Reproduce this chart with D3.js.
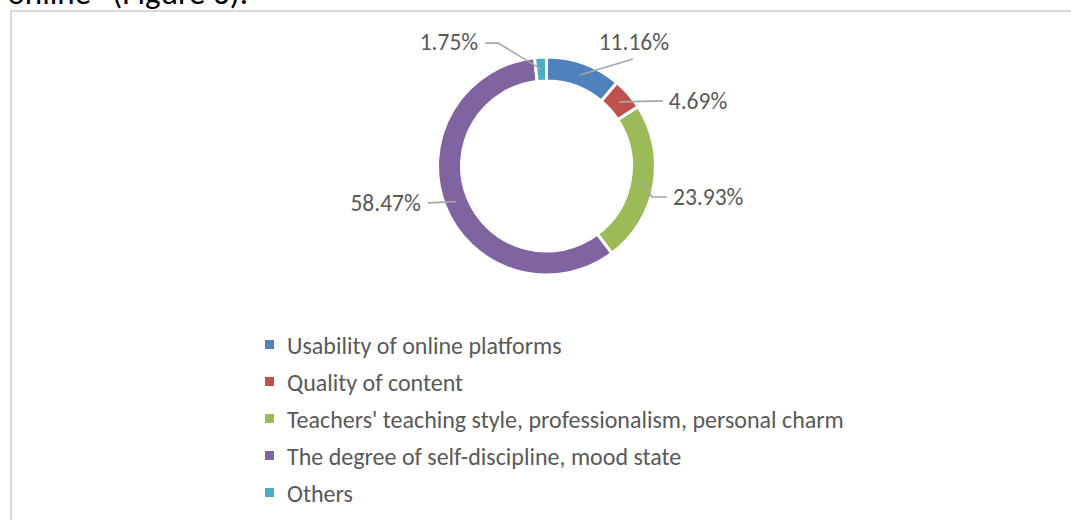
<!DOCTYPE html>
<html><head><meta charset="utf-8">
<script src="https://cdn.jsdelivr.net/npm/d3@7"></script>
<style>
html,body{margin:0;padding:0;background:#fff;}
svg{display:block;}
text{font-family:Calibri, Carlito, Lato, sans-serif;}
</style></head>
<body>
<svg id="c" width="1071" height="520"></svg>
<script>
const categories = [
  "Usability of online platforms",
  "Quality of content",
  "Teachers' teaching style, professionalism, personal charm",
  "The degree of self-discipline, mood state",
  "Others"
];
const values = [11.16, 4.69, 23.93, 58.47, 1.75];
const colors = ["#4f81bd", "#c0504d", "#9bbb59", "#8064a2", "#4bacc6"];
const valueLabels = ["11.16%", "4.69%", "23.93%", "58.47%", "1.75%"];

const svg = d3.select("#c");
const W = 1071, H = 520;

// cut-off text of the surrounding document
svg.append("text").attr("x", 248).attr("y", 4).attr("text-anchor", "end")
  .attr("font-size", 33).attr("fill", "#000").text("online\u201D (Figure 6).");

// chart frame
svg.append("path").attr("d", `M11,${H} L11,11 L${W},11`)
  .attr("fill", "none").attr("stroke", "#d9d9d9").attr("stroke-width", 2);

const cx = 546.5, cy = 166, rOut = 109, rIn = 85;
const g = svg.append("g").attr("transform", `translate(${cx},${cy})`);
const pie = d3.pie().sort(null).value(d => d);
const arcs = pie(values);
const arc = d3.arc().innerRadius(rIn).outerRadius(rOut);

g.selectAll("path.slice").data(arcs).enter().append("path")
  .attr("class", "slice")
  .attr("d", arc)
  .attr("fill", (d, i) => colors[i])
  .attr("stroke", "#fff").attr("stroke-width", 3);

// leader-line layout (offsets from the ring centroid)
const layout = [
  {pts: [[53, -16]], tx: 54, ty: -25, anchor: "middle"},
  {pts: [[43.5, -1]], tx: 49.5, ty: 7.5, anchor: "start"},
  {pts: [[10, 14], [25, 14]], tx: 31, ty: 21.5, anchor: "start"},
  {pts: [[-28.5, 1.3]], tx: -35.5, ty: 9.3, anchor: "end"},
  {pts: [[-43, -26], [-56, -26]], tx: -63, ty: -19, anchor: "end"}
];

arcs.forEach((d, i) => {
  const c = arc.centroid(d);
  const L = layout[i];
  const pts = [c].concat(L.pts.map(p => [c[0] + p[0], c[1] + p[1]]));
  g.append("path").attr("d", d3.line()(pts))
    .attr("fill", "none").attr("stroke", "#a6a6a6").attr("stroke-width", 1.6);
  g.append("text").attr("x", c[0] + L.tx).attr("y", c[1] + L.ty)
    .attr("text-anchor", L.anchor).attr("font-size", 23.5).attr("fill", "#595959")
    .text(valueLabels[i]);
});

// legend
const leg = svg.append("g").attr("transform", "translate(265,340)");
const items = leg.selectAll("g").data(categories).enter().append("g")
  .attr("transform", (d, i) => `translate(0,${i * 37})`);
items.append("rect").attr("x", 0).attr("y", 0).attr("width", 9).attr("height", 9)
  .attr("fill", (d, i) => colors[i]);
items.append("text").attr("x", 22).attr("y", 13.5).attr("font-size", 24)
  .attr("fill", "#595959").text(d => d);
</script>
</body></html>
